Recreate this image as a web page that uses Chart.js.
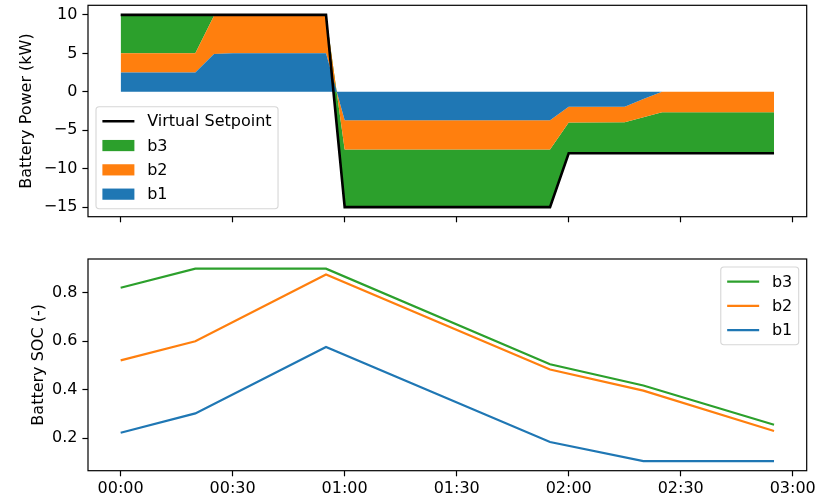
<!DOCTYPE html>
<html>
<head>
<meta charset="utf-8">
<title>Battery dispatch</title>
<script src="https://cdn.jsdelivr.net/npm/chart.js@4.4.1/dist/chart.umd.min.js"></script>
<style>
  html, body { margin: 0; padding: 0; background: #fff; }
  #wrap { position: relative; width: 827px; height: 498px; overflow: hidden; }
  .panel { position: absolute; left: 0; width: 827px; }
  #powerBox { top: 0; height: 238px; }
  #socBox { top: 248px; height: 250px; }
</style>
</head>
<body>
<div id="wrap">
  <div class="panel" id="powerBox"><canvas id="power"></canvas></div>
  <div class="panel" id="socBox"><canvas id="soc"></canvas></div>
</div>
<script>
// ---- data (minutes after start) ----
const powerMinutes = [0, 20, 25, 30, 55, 60, 115, 120, 135, 140, 145, 175];
const setpointKW   = [10, 10, 10, 10, 10, -15, -15, -8, -8, -8, -8, -8];
const b1PowerKW    = [2.5, 2.5, 4.9, 5, 5, -3.7, -3.7, -1.95, -1.95, -0.95, 0, 0];
const b2PowerKW    = [2.5, 2.5, 5.0, 5, 5, -3.8, -3.8, -2.05, -2.0, -2.35, -2.65, -2.65];
const b3PowerKW    = [5, 5, 0.1, 0, 0, -7.5, -7.5, -4.0, -4.05, -4.7, -5.35, -5.35];

const socMinutes = [0, 20, 55, 115, 140, 175];
const b1Soc      = [0.222, 0.302, 0.576, 0.184, 0.105, 0.105];
const b2Soc      = [0.521, 0.600, 0.876, 0.483, 0.396, 0.229];
const b3Soc      = [0.821, 0.900, 0.900, 0.505, 0.417, 0.255];

const timeTickMinutes = [0, 30, 60, 90, 120, 150, 180];
const powerTicks = [-15, -10, -5, 0, 5, 10];
const socTicks = [0.2, 0.4, 0.6, 0.8];

const seriesNames = ['b1', 'b2', 'b3'];
const setpointName = 'Virtual Setpoint';

// ---- styling ----
const BLUE = '#1f77b4', ORANGE = '#ff7f0e', GREEN = '#2ca02c';
const FONT_SIZE = 16;
Chart.defaults.font.family = '"DejaVu Sans", sans-serif';
Chart.defaults.font.size = FONT_SIZE;
Chart.defaults.color = '#000';
Chart.defaults.animation = false;

const PLOT_LEFT = 88, PLOT_RIGHT = 806.7;

function pad5(lo, hi) { const d = (hi - lo) * 0.05; return [lo - d, hi + d]; }
const [xMin, xMax] = pad5(Math.min(...powerMinutes), Math.max(...powerMinutes));
const [pMin, pMax] = pad5(Math.min(...setpointKW), Math.max(...setpointKW));
const allSoc = b1Soc.concat(b2Soc, b3Soc);
const [sMin, sMax] = pad5(Math.min(...allSoc), Math.max(...allSoc));

function hhmm(m) {
  const h = Math.floor(m / 60), mm = Math.round(m % 60);
  return String(h).padStart(2, '0') + ':' + String(mm).padStart(2, '0');
}
function minusFmt(v) { return v < 0 ? '\u2212' + Math.abs(v) : String(v); }
function xy(xs, ys) { return xs.map((x, i) => ({ x: x, y: ys[i] })); }

const tickGrid = {
  display: true, drawOnChartArea: false, drawTicks: true,
  tickLength: 5.6, tickWidth: 1.2, tickColor: '#000'
};

function timeAxis(showLabels, height) {
  return {
    type: 'linear', min: xMin, max: xMax,
    afterBuildTicks: s => { s.ticks = timeTickMinutes.map(v => ({ value: v })); },
    afterFit: s => { s.height = height; s.paddingLeft = 0; s.paddingRight = 0; },
    grid: tickGrid,
    border: { display: false },
    ticks: { autoSkip: false, maxRotation: 0, minRotation: 0, padding: 3,
             callback: v => showLabels ? hhmm(v) : '' }
  };
}

function valueAxis(min, max, ticks, fmt, title, titlePad, stacked) {
  return {
    type: 'linear', min: min, max: max, stacked: stacked,
    afterBuildTicks: s => { s.ticks = ticks.map(v => ({ value: v })); },
    afterFit: s => { s.width = PLOT_LEFT; s.paddingTop = 0; s.paddingBottom = 0; },
    grid: tickGrid,
    border: { display: false },
    ticks: { autoSkip: false, padding: 5, callback: fmt },
    title: { display: true, text: title, padding: { top: titlePad, bottom: 0 },
             font: { size: FONT_SIZE } }
  };
}

// frame on all four sides of the plotting area
const frameBox = {
  id: 'frameBox',
  afterDatasetsDraw(chart) {
    const { ctx, chartArea: a } = chart;
    ctx.save();
    ctx.strokeStyle = '#000';
    ctx.lineWidth = 1.2;
    ctx.strokeRect(a.left, a.top, a.right - a.left, a.bottom - a.top);
    ctx.restore();
  }
};

// boxed legend placed inside the plotting area
const boxLegend = {
  id: 'boxLegend',
  afterDraw(chart, args, opts) {
    if (!opts || !opts.items) return;
    const { ctx, chartArea: a } = chart;
    const f = FONT_SIZE;
    const pad = 0.4 * f, spacing = 0.5 * f, handleLen = 2 * f, handlePad = 0.8 * f, axPad = 0.5 * f;
    const rowH = 16.3;
    ctx.save();
    ctx.font = f + 'px "DejaVu Sans", sans-serif';
    const items = opts.items.map(it => {
      const ds = chart.data.datasets[it.dataset];
      return { kind: it.kind, label: ds.label,
               color: it.kind === 'patch' ? ds.backgroundColor : ds.borderColor,
               width: ds.borderWidth };
    });
    const textW = Math.max(...items.map(it => ctx.measureText(it.label).width));
    const n = items.length;
    const w = pad * 2 + handleLen + handlePad + textW;
    const h = pad * 2 + rowH * n + spacing * (n - 1);
    let x, y;
    if (opts.corner === 'lower left') { x = a.left + axPad; y = a.bottom - axPad - h; }
    else { x = a.right - axPad - w; y = a.top + axPad; }
    const r = 0.2 * f;
    ctx.beginPath();
    ctx.moveTo(x + r, y);
    ctx.arcTo(x + w, y, x + w, y + h, r);
    ctx.arcTo(x + w, y + h, x, y + h, r);
    ctx.arcTo(x, y + h, x, y, r);
    ctx.arcTo(x, y, x + w, y, r);
    ctx.closePath();
    ctx.fillStyle = 'rgba(255,255,255,0.8)';
    ctx.fill();
    ctx.strokeStyle = 'rgba(204,204,204,0.8)';
    ctx.lineWidth = 1.1;
    ctx.stroke();
    items.forEach((it, i) => {
      const cy = y + pad + i * (rowH + spacing) + rowH / 2;
      const hx = x + pad;
      if (it.kind === 'line') {
        ctx.beginPath();
        ctx.moveTo(hx, cy);
        ctx.lineTo(hx + handleLen, cy);
        ctx.strokeStyle = it.color;
        ctx.lineWidth = it.width;
        ctx.stroke();
      } else {
        ctx.fillStyle = it.color;
        ctx.fillRect(hx, cy - 0.35 * f, handleLen, 0.7 * f);
      }
      ctx.fillStyle = '#000';
      ctx.textBaseline = 'middle';
      ctx.textAlign = 'left';
      ctx.fillText(it.label, hx + handleLen + handlePad, cy + 1);
    });
    ctx.restore();
  }
};

function areaSet(label, values, color, fill) {
  return {
    label: label, data: xy(powerMinutes, values), stack: 'batteries',
    backgroundColor: color, borderColor: color, borderWidth: 0,
    pointRadius: 0, fill: fill, tension: 0
  };
}

new Chart(document.getElementById('power'), {
  type: 'line',
  data: {
    datasets: [
      areaSet(seriesNames[0], b1PowerKW, BLUE, 'origin'),
      areaSet(seriesNames[1], b2PowerKW, ORANGE, '-1'),
      areaSet(seriesNames[2], b3PowerKW, GREEN, '-1'),
      { label: setpointName, data: xy(powerMinutes, setpointKW), stack: 'setpoint',
        borderColor: '#000', backgroundColor: '#000', borderWidth: 2.6,
        pointRadius: 0, fill: false, tension: 0, order: -1 }
    ]
  },
  options: {
    responsive: true, maintainAspectRatio: false,
    layout: { padding: { left: 0, right: 827 - PLOT_RIGHT, top: 5.3, bottom: 0 } },
    scales: {
      x: timeAxis(false, 238 - 216.7),
      y: valueAxis(pMin, pMax, powerTicks, minusFmt, 'Battery Power (kW)', 17.4, 'single')
    },
    plugins: {
      legend: { display: false },
      tooltip: { enabled: false },
      boxLegend: { corner: 'lower left', items: [
        { dataset: 3, kind: 'line' }, { dataset: 2, kind: 'patch' },
        { dataset: 1, kind: 'patch' }, { dataset: 0, kind: 'patch' }] }
    }
  },
  plugins: [frameBox, boxLegend]
});

function socSet(label, values, color) {
  return {
    label: label, data: xy(socMinutes, values),
    borderColor: color, backgroundColor: color, borderWidth: 2.2,
    pointRadius: 0, fill: false, tension: 0
  };
}

new Chart(document.getElementById('soc'), {
  type: 'line',
  data: {
    datasets: [
      socSet(seriesNames[0], b1Soc, BLUE),
      socSet(seriesNames[1], b2Soc, ORANGE),
      socSet(seriesNames[2], b3Soc, GREEN)
    ]
  },
  options: {
    responsive: true, maintainAspectRatio: false,
    layout: { padding: { left: 0, right: 827 - PLOT_RIGHT, top: 11, bottom: 0 } },
    scales: {
      x: timeAxis(true, 250 - 222.7),
      y: valueAxis(sMin, sMax, socTicks, v => v.toFixed(1), 'Battery SOC (-)', 29.4, false)
    },
    plugins: {
      legend: { display: false },
      tooltip: { enabled: false },
      boxLegend: { corner: 'upper right', items: [
        { dataset: 2, kind: 'line' }, { dataset: 1, kind: 'line' }, { dataset: 0, kind: 'line' }] }
    }
  },
  plugins: [frameBox, boxLegend]
});
</script>
</body>
</html>
